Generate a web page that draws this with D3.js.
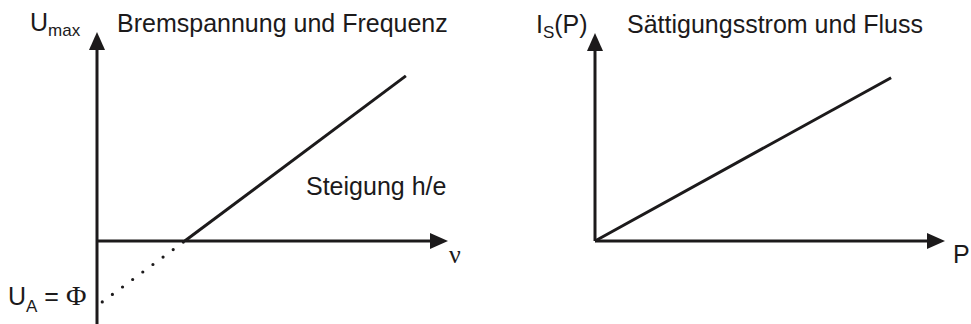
<!DOCTYPE html>
<html>
<head>
<meta charset="utf-8">
<script src="https://cdn.jsdelivr.net/npm/d3@7"></script>
<style>
  body { margin: 0; background: #fff; }
  svg { display: block; font-family: "Liberation Sans", Arial, sans-serif; }
  .serif { font-family: "Liberation Serif", "Times New Roman", serif; }
</style>
</head>
<body>
<div id="chart"></div>
<script>
// left panel: Bremsspannung vs. Frequenz
var nuValues   = [2.5, 8.8]
var uValues    = [0, 4.74]
var dotNu      = [0.15, 2.5]   // extrapolation down to U_A
var dotU       = [-1.75, 0]
var leftXRange = [0, 10]
var leftYRange = [-2.4, 6]

// right panel: Saettigungsstrom vs. Fluss
var pValues     = [0, 8.46]
var iValues     = [0, 4.71]
var rightXRange = [0, 10]
var rightYRange = [0, 6]

var titles = ["Bremspannung und Frequenz", "Sättigungsstrom und Fluss"]

var w = 971, h = 324
var ink = "#1c1a1b"
var fs = 25, fsSub = 17

var svg = d3.select("#chart")
  .append("svg")
  .attr("width", w)
  .attr("height", h)

// scales
var xL = d3.scaleLinear().domain([0, 10]).range([97, 448])
var yL = d3.scaleLinear().domain([0, 6]).range([241, 32])
var xR = d3.scaleLinear().domain([0, 10]).range([595, 945])
var yR = d3.scaleLinear().domain([0, 6]).range([241, 33])

var line = function(xs, ys, sx, sy) {
  return d3.line()
    .x(function(d) { return sx(d[0]) })
    .y(function(d) { return sy(d[1]) })(d3.zip(xs, ys))
}

// axis with a filled arrow head at the end
var arrowAxis = function(x0, y0, x1, y1) {
  var len = 18, half = 8
  var dx = x1 - x0, dy = y1 - y0
  var d = Math.sqrt(dx*dx + dy*dy)
  var ux = dx/d, uy = dy/d
  var bx = x1 - ux*len, by = y1 - uy*len
  svg.append("line")
    .attr("x1", x0).attr("y1", y0)
    .attr("x2", bx + ux*2).attr("y2", by + uy*2)
    .attr("stroke", ink)
    .attr("stroke-width", 3)
  svg.append("path")
    .attr("d", "M" + x1 + "," + y1 +
               "L" + (bx - uy*half) + "," + (by + ux*half) +
               "L" + (bx + uy*half) + "," + (by - ux*half) + "Z")
    .attr("fill", ink)
}

/////////////// left
arrowAxis(xL(0), yL(leftYRange[0]), xL(0), yL(leftYRange[1]))
arrowAxis(xL(0), yL(0), xL(leftXRange[1]), yL(0))

svg.append("path")
  .attr("d", line(nuValues, uValues, xL, yL))
  .attr("fill", "none")
  .attr("stroke", ink)
  .attr("stroke-width", 3)

svg.append("path")
  .attr("d", line(dotNu, dotU, xL, yL))
  .attr("fill", "none")
  .attr("stroke", ink)
  .attr("stroke-width", 3.2)
  .attr("stroke-linecap", "round")
  .attr("stroke-dasharray", "0 12.6")

var t = svg.append("text").attr("x", 30).attr("y", 31).attr("font-size", fs).attr("fill", ink)
t.append("tspan").text("U")
t.append("tspan").attr("dy", 5).attr("font-size", fsSub).text("max")

svg.append("text")
  .attr("x", 117).attr("y", 31.5)
  .attr("font-size", fs).attr("fill", ink)
  .text(titles[0])

svg.append("text")
  .attr("x", 306).attr("y", 195)
  .attr("font-size", fs).attr("fill", ink)
  .text("Steigung h/e")

svg.append("text")
  .attr("class", "serif")
  .attr("x", 449).attr("y", 263)
  .attr("font-size", 26).attr("fill", ink)
  .text("ν")

var ua = svg.append("text").attr("x", 8).attr("y", 305).attr("font-size", fs).attr("fill", ink)
ua.append("tspan").text("U")
ua.append("tspan").attr("dy", 7).attr("font-size", fsSub).text("A")
ua.append("tspan").attr("dy", -7).text(" = ")
ua.append("tspan").attr("class", "serif").attr("font-size", 28).text("Φ")

/////////////// right
arrowAxis(xR(0), yR(rightYRange[0]), xR(0), yR(rightYRange[1]))
arrowAxis(xR(0), yR(0), xR(rightXRange[1]), yR(0))

svg.append("path")
  .attr("d", line(pValues, iValues, xR, yR))
  .attr("fill", "none")
  .attr("stroke", ink)
  .attr("stroke-width", 3)

var is = svg.append("text").attr("x", 536).attr("y", 33).attr("font-size", fs).attr("fill", ink)
is.append("tspan").text("I")
is.append("tspan").attr("dy", 5).attr("font-size", fsSub).text("S")
is.append("tspan").attr("dy", -5).text("(P)")

svg.append("text")
  .attr("x", 627).attr("y", 33)
  .attr("font-size", fs).attr("fill", ink)
  .text(titles[1])

svg.append("text")
  .attr("x", 953).attr("y", 263)
  .attr("font-size", fs).attr("fill", ink)
  .text("P")
</script>
</body>
</html>
